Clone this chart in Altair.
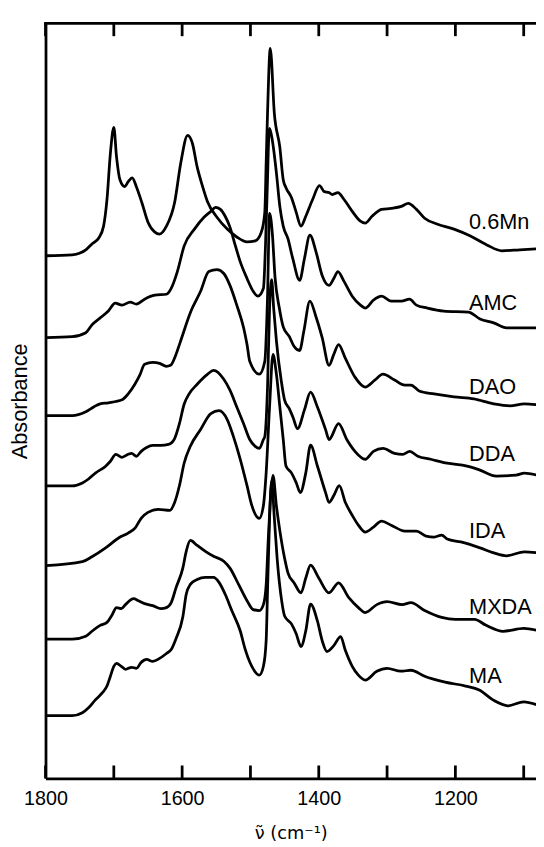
import altair as alt
import pandas as pd

FONT = "Liberation Sans"
TITLE_FONT = "DejaVu Sans"

names = ["0.6Mn", "AMC", "DAO", "DDA", "IDA", "MXDA", "MA"]
offsets = [5.295, 4.465, 3.675, 2.963, 2.155, 1.41, 0.635]
label_y = [5.563, 4.747, 3.897, 3.213, 2.437, 1.663, 0.97]
label_wn = 1180
tick_values = [1800, 1700, 1600, 1500, 1400, 1300, 1200, 1100]
label_values = [1800, 1600, 1400, 1200]

wn_06mn = [1799, 1761, 1741, 1732, 1722, 1715, 1710, 1705, 1700, 1696, 1691, 1684, 1679, 1673, 1667,
           1659, 1650, 1640, 1633, 1623, 1611, 1602, 1592, 1585, 1578, 1570, 1563, 1549, 1534, 1520,
           1505, 1493, 1484, 1479, 1477, 1475, 1471, 1465, 1457, 1452, 1448, 1440, 1433, 1426, 1419,
           1409, 1399, 1392, 1385, 1380, 1372, 1363, 1351, 1339, 1332, 1322, 1308, 1294, 1279, 1269,
           1257, 1245, 1226, 1202, 1178, 1154, 1132, 1106, 1081]
abs_06mn = [0.00, 0.01, 0.06, 0.12, 0.18, 0.30, 0.57, 1.04, 1.30, 1.00, 0.77, 0.70, 0.75, 0.79, 0.70,
            0.54, 0.34, 0.24, 0.22, 0.30, 0.54, 0.94, 1.22, 1.14, 0.90, 0.70, 0.55, 0.39, 0.27, 0.19,
            0.14, 0.15, 0.24, 0.44, 0.94, 1.44, 2.10, 1.44, 1.10, 0.77, 0.69, 0.59, 0.44, 0.30, 0.40,
            0.57, 0.71, 0.65, 0.64, 0.62, 0.64, 0.57, 0.45, 0.35, 0.33, 0.40, 0.47, 0.48, 0.50, 0.53,
            0.47, 0.38, 0.32, 0.27, 0.20, 0.11, 0.05, 0.06, 0.07]

wn_amc = [1799, 1761, 1741, 1732, 1720, 1708, 1698, 1688, 1676, 1667, 1655, 1640, 1623, 1616, 1607,
          1597, 1582, 1568, 1558, 1551, 1544, 1537, 1530, 1522, 1515, 1505, 1496, 1489, 1481, 1478,
          1475, 1473, 1472, 1468, 1462, 1457, 1452, 1445, 1438, 1428, 1421, 1413, 1404, 1395, 1385,
          1378, 1372, 1363, 1351, 1339, 1332, 1320, 1308, 1294, 1279, 1267, 1257, 1241, 1217, 1181,
          1164, 1144, 1125, 1081]
abs_amc = [0.00, 0.01, 0.05, 0.13, 0.20, 0.27, 0.35, 0.33, 0.36, 0.34, 0.39, 0.43, 0.44, 0.50, 0.67,
           0.93, 1.10, 1.22, 1.28, 1.32, 1.30, 1.23, 1.12, 0.93, 0.77, 0.60, 0.47, 0.42, 0.50, 0.93,
           1.60, 2.07, 2.12, 2.00, 1.67, 1.33, 1.13, 1.00, 0.80, 0.58, 0.80, 1.04, 0.87, 0.63, 0.53,
           0.60, 0.67, 0.57, 0.42, 0.33, 0.30, 0.38, 0.42, 0.37, 0.37, 0.39, 0.33, 0.30, 0.27, 0.26,
           0.19, 0.15, 0.10, 0.10]

wn_dao = [1799, 1761, 1741, 1729, 1720, 1708, 1688, 1679, 1669, 1662, 1655, 1643, 1633, 1623, 1617,
          1609, 1603, 1587, 1573, 1561, 1549, 1539, 1530, 1520, 1510, 1505, 1501, 1487, 1479, 1475,
          1472, 1468, 1464, 1458, 1452, 1443, 1436, 1428, 1422, 1413, 1404, 1395, 1385, 1378, 1371,
          1361, 1347, 1332, 1318, 1306, 1289, 1274, 1265, 1253, 1231, 1202, 1173, 1144, 1120, 1099,
          1081]
abs_dao = [0.00, 0.00, 0.04, 0.09, 0.12, 0.13, 0.16, 0.22, 0.32, 0.41, 0.52, 0.54, 0.53, 0.50, 0.51,
           0.62, 0.74, 1.06, 1.26, 1.46, 1.48, 1.44, 1.32, 1.12, 0.89, 0.72, 0.55, 0.42, 0.55, 1.20,
           2.05, 1.85, 1.40, 1.10, 0.90, 0.80, 0.70, 0.66, 0.85, 1.16, 1.00, 0.79, 0.51, 0.62, 0.72,
           0.58, 0.39, 0.29, 0.36, 0.42, 0.36, 0.31, 0.31, 0.25, 0.22, 0.19, 0.17, 0.12, 0.10, 0.12,
           0.11]

wn_dda = [1799, 1761, 1746, 1737, 1727, 1712, 1705, 1697, 1688, 1679, 1674, 1667, 1660, 1652, 1643,
          1631, 1620, 1611, 1604, 1597, 1590, 1578, 1563, 1554, 1539, 1530, 1520, 1510, 1501, 1493,
          1487, 1481, 1479, 1475, 1472, 1469, 1466, 1462, 1455, 1450, 1443, 1438, 1431, 1421, 1412,
          1402, 1390, 1385, 1371, 1359, 1347, 1332, 1320, 1306, 1289, 1277, 1267, 1255, 1236, 1212,
          1183, 1164, 1140, 1111, 1099, 1081]
abs_dda = [0.00, 0.00, 0.03, 0.07, 0.13, 0.20, 0.25, 0.32, 0.29, 0.32, 0.33, 0.30, 0.35, 0.39, 0.41,
           0.41, 0.42, 0.48, 0.63, 0.83, 0.93, 1.03, 1.13, 1.17, 1.08, 0.97, 0.80, 0.63, 0.47, 0.40,
           0.38, 0.47, 0.50, 1.00, 1.80, 2.09, 1.80, 1.47, 1.07, 0.87, 0.78, 0.70, 0.58, 0.77, 0.95,
           0.80, 0.57, 0.47, 0.63, 0.47, 0.35, 0.27, 0.35, 0.38, 0.33, 0.32, 0.35, 0.30, 0.27, 0.23,
           0.20, 0.16, 0.10, 0.11, 0.13, 0.11]

wn_ida = [1799, 1746, 1732, 1712, 1693, 1679, 1669, 1660, 1650, 1635, 1618, 1611, 1604, 1597, 1588,
          1573, 1558, 1546, 1534, 1525, 1515, 1505, 1498, 1487, 1481, 1477, 1472, 1467, 1462, 1457,
          1452, 1448, 1440, 1433, 1427, 1419, 1412, 1402, 1390, 1385, 1378, 1370, 1361, 1351, 1342,
          1332, 1320, 1308, 1294, 1274, 1257, 1243, 1231, 1220, 1212, 1192, 1164, 1144, 1125, 1099,
          1081]
abs_ida = [0.00, 0.04, 0.09, 0.18, 0.28, 0.33, 0.38, 0.48, 0.54, 0.57, 0.56, 0.64, 0.81, 1.04, 1.21,
           1.38, 1.54, 1.57, 1.48, 1.31, 1.08, 0.81, 0.61, 0.48, 0.61, 0.94, 1.61, 2.14, 1.94, 1.61,
           1.28, 1.01, 0.94, 0.84, 0.74, 0.94, 1.22, 1.01, 0.74, 0.64, 0.71, 0.81, 0.64, 0.51, 0.41,
           0.34, 0.39, 0.45, 0.41, 0.35, 0.35, 0.30, 0.29, 0.31, 0.27, 0.24, 0.18, 0.13, 0.10, 0.14,
           0.13]

wn_mxda = [1799, 1761, 1741, 1732, 1720, 1710, 1703, 1696, 1689, 1683, 1671, 1664, 1655, 1643, 1631,
           1623, 1616, 1609, 1599, 1594, 1588, 1578, 1566, 1554, 1539, 1530, 1517, 1505, 1496, 1487,
           1481, 1477, 1474, 1467, 1462, 1457, 1450, 1445, 1436, 1426, 1419, 1412, 1400, 1385, 1371,
           1356, 1342, 1332, 1315, 1300, 1278, 1265, 1245, 1220, 1200, 1172, 1155, 1130, 1100, 1081]
abs_mxda = [0.00, 0.00, 0.03, 0.08, 0.14, 0.17, 0.24, 0.32, 0.31, 0.35, 0.41, 0.39, 0.36, 0.34, 0.31,
            0.32, 0.37, 0.52, 0.72, 0.89, 1.00, 0.95, 0.89, 0.84, 0.79, 0.72, 0.55, 0.39, 0.30, 0.29,
            0.35, 0.55, 1.00, 1.66, 1.35, 1.10, 0.82, 0.67, 0.57, 0.47, 0.62, 0.75, 0.62, 0.47, 0.57,
            0.42, 0.32, 0.27, 0.35, 0.38, 0.35, 0.37, 0.29, 0.22, 0.20, 0.20, 0.14, 0.08, 0.11, 0.09]

wn_ma = [1799, 1761, 1746, 1737, 1727, 1717, 1710, 1705, 1700, 1696, 1689, 1683, 1674, 1667, 1660,
         1652, 1643, 1633, 1623, 1616, 1609, 1599, 1594, 1588, 1578, 1566, 1554, 1546, 1537, 1527,
         1515, 1508, 1498, 1487, 1481, 1477, 1475, 1472, 1469, 1465, 1461, 1454, 1450, 1440, 1433,
         1426, 1419, 1412, 1402, 1395, 1388, 1378, 1368, 1361, 1351, 1342, 1332, 1315, 1300, 1280,
         1265, 1245, 1215, 1185, 1165, 1145, 1123, 1100, 1081]
abs_ma = [0.00, 0.00, 0.03, 0.08, 0.16, 0.23, 0.30, 0.40, 0.50, 0.53, 0.50, 0.47, 0.49, 0.48, 0.54,
          0.57, 0.55, 0.58, 0.63, 0.67, 0.78, 1.00, 1.23, 1.33, 1.38, 1.40, 1.40, 1.35, 1.23, 1.06,
          0.86, 0.68, 0.50, 0.41, 0.50, 0.76, 1.26, 2.00, 2.38, 2.00, 1.60, 1.15, 1.01, 0.93, 0.83,
          0.70, 0.86, 1.13, 0.96, 0.76, 0.65, 0.71, 0.80, 0.66, 0.50, 0.41, 0.36, 0.45, 0.48, 0.45,
          0.46, 0.40, 0.34, 0.30, 0.26, 0.16, 0.10, 0.14, 0.11]

wn_lists = [wn_06mn, wn_amc, wn_dao, wn_dda, wn_ida, wn_mxda, wn_ma]
abs_lists = [abs_06mn, abs_amc, abs_dao, abs_dda, abs_ida, abs_mxda, abs_ma]

rows = []
for name, off, wns, vals in zip(names, offsets, wn_lists, abs_lists):
    for w, v in zip(wns, vals):
        rows.append({"series": name, "wn": w, "y": off + v})
df = pd.DataFrame(rows)

labels_df = pd.DataFrame({"series": names, "wn": [label_wn] * len(names), "y": label_y})
ticks_df = pd.DataFrame({"wn": tick_values})
frame_df = pd.DataFrame({"k": [0]})

W, H = 497, 765
TICK = 13
LW = 2.8
xscale = alt.Scale(domain=[1800, 1082], nice=False, zero=False)
yscale = alt.Scale(domain=[0, 7.65], nice=False, zero=False)

x_axis = alt.Axis(
    values=label_values, format="d", ticks=False, grid=False,
    domainWidth=LW, domainColor="black",
    labelFontSize=20, labelFont=FONT, labelColor="black", labelPadding=11,
    labelFlush=False,
    title="ν\u0303 (cm\u207b\u00b9)", titleFontSize=18, titleFont=TITLE_FONT, titleColor="black",
    titleFontWeight="normal", titlePadding=16)
y_axis = alt.Axis(
    ticks=False, labels=False, grid=False,
    domainWidth=LW, domainColor="black",
    title="Absorbance", titleFontSize=22, titleFont=FONT, titleColor="black",
    titleFontWeight="normal", titlePadding=14)

x_enc = alt.X("wn:Q", scale=xscale, axis=x_axis)
y_enc = alt.Y("y:Q", scale=yscale, axis=y_axis)

lines = alt.Chart(df).mark_line(
    color="black", strokeWidth=LW, clip=True, strokeJoin="round", interpolate="monotone"
).encode(
    x=x_enc,
    y=y_enc,
    detail="series:N",
)

texts = alt.Chart(labels_df).mark_text(
    align="left", baseline="alphabetic", fontSize=22, font=FONT, color="black"
).encode(
    x=x_enc,
    y=y_enc,
    text="series:N",
)

top_ticks = alt.Chart(ticks_df).mark_rule(color="black", strokeWidth=LW).encode(
    x=x_enc,
    y=alt.value(0),
    y2=alt.value(TICK),
)

bottom_ticks = alt.Chart(ticks_df).mark_rule(color="black", strokeWidth=LW).encode(
    x=x_enc,
    y=alt.value(H - TICK),
    y2=alt.value(H),
)

top_frame = alt.Chart(frame_df).mark_rule(color="black", strokeWidth=LW, strokeCap="square").encode(
    x=alt.value(0),
    x2=alt.value(W),
    y=alt.value(0),
)

chart = alt.layer(lines, texts, top_ticks, bottom_ticks, top_frame).properties(
    width=W,
    height=H,
    autosize=alt.AutoSizeParams(type="none"),
    padding={"left": 38, "top": 10, "right": 0, "bottom": 60},
    background="white",
).configure_view(stroke=None)

chart.save("out.html", embed_options={"renderer": "svg", "actions": False})
